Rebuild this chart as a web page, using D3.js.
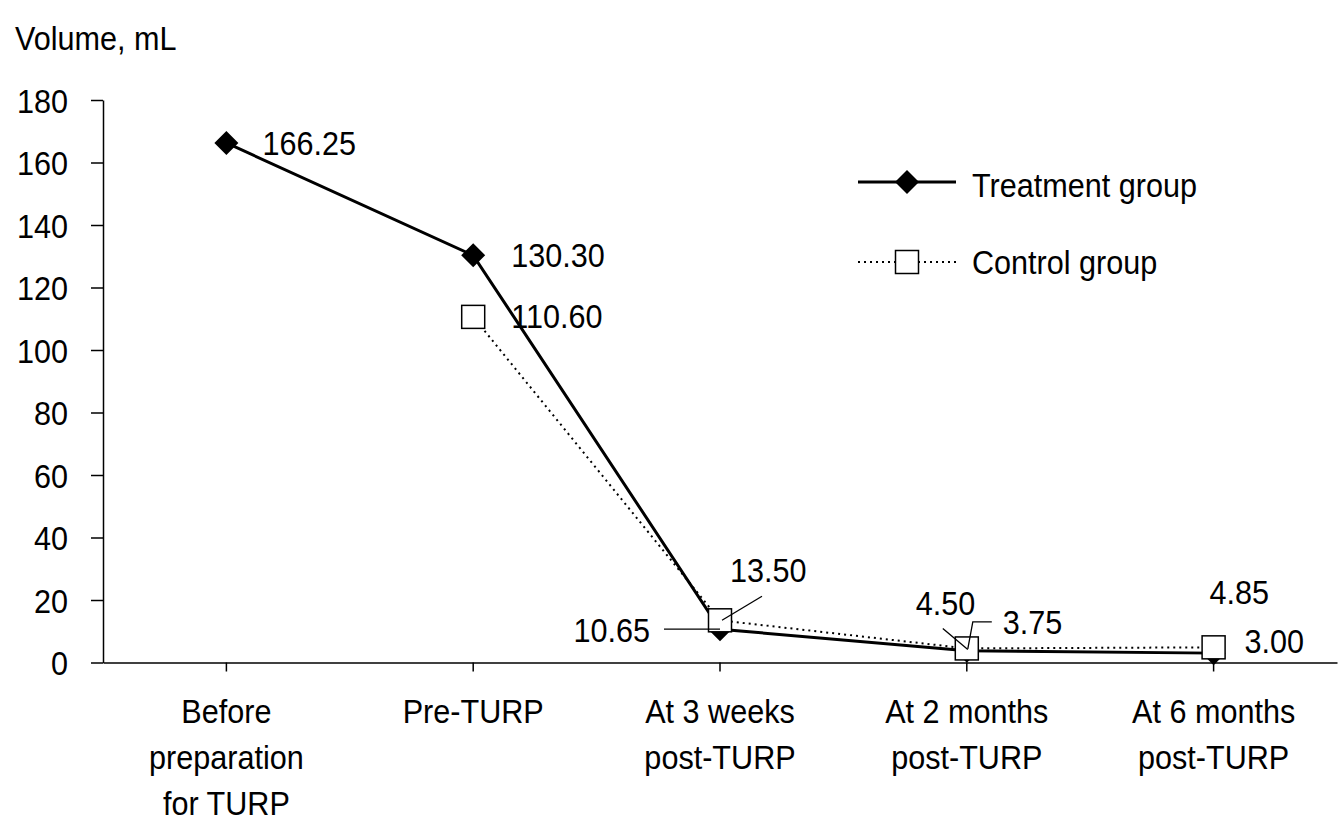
<!DOCTYPE html>
<html><head><meta charset="utf-8">
<script src="https://cdn.jsdelivr.net/npm/d3@7"></script>
<style>
html,body{margin:0;padding:0;background:#fff;}
text{font-family:"Liberation Sans",Arial,sans-serif;font-size:34px;fill:#000;}
</style></head>
<body><svg id="chart" width="1344" height="834"></svg>
<script>
const categories = [["Before","preparation","for TURP"],["Pre-TURP"],["At 3 weeks","post-TURP"],["At 2 months","post-TURP"],["At 6 months","post-TURP"]];
const treatment = [166.25, 130.30, 10.65, 3.75, 3.00];
const control = [null, 110.60, 13.50, 4.50, 4.85];
const treatmentLabels = ["166.25","130.30","10.65","3.75","3.00"];
const controlLabels = [null,"110.60","13.50","4.50","4.85"];
const yTicks = [0,20,40,60,80,100,120,140,160,180];
const seriesNames = ["Treatment group","Control group"];

// label layout (offsets from the point, pixels)
const tLabelLayout = [{dx:36,dy:12,a:"start"},{dx:38,dy:12,a:"start"},{dx:-70,dy:13,a:"end",leader:[[-56,0],[0,0]]},{dx:36,dy:-17,a:"start",leader:[[1,-2],[6,-29],[25,-29]]},{dx:31,dy:0,a:"start"}];
const cLabelLayout = [null,{dx:38,dy:11,a:"start"},{dx:10,dy:-38,a:"start",leader:[[2,0],[42,-24]]},{dx:-51,dy:-33,a:"start",leader:[[-24,-20],[1,1]]},{dx:-4,dy:-43,a:"start"}];

const SX = 0.9;
const svg = d3.select("#chart");
const idx = d3.range(categories.length);
const x = d3.scaleBand().domain(idx).range([103,1337]).padding(0);
const cx = i => x(i) + x.bandwidth()/2;
const y = d3.scaleLinear().domain([0,180]).range([662.5,100]);

function txt(g, px, py, s, anchor){
  return g.append("text").attr("transform",`translate(${px},${py}) scale(${SX},1)`).attr("text-anchor",anchor||"start").text(s);
}

// y axis
const ya = svg.append("g").attr("transform","translate(103,0)")
  .call(d3.axisLeft(y).tickValues(yTicks).tickSize(12).tickSizeOuter(0).tickFormat(d3.format("d")));
ya.selectAll("path,line").attr("stroke","#000").attr("stroke-width",1.5);
ya.selectAll("text").attr("x",null).attr("dy",null).attr("transform",`translate(-35,12) scale(${SX},1)`)
  .attr("text-anchor","end").style("font-size","34px").style("font-family",'"Liberation Sans",Arial,sans-serif');

// x axis
const xa = svg.append("g").attr("transform",`translate(0,${y(0)})`)
  .call(d3.axisBottom(x).tickSize(9).tickSizeOuter(0).tickFormat(""));
xa.selectAll("path,line").attr("stroke","#000").attr("stroke-width",1.5);
xa.selectAll("text").remove();

// category labels
idx.forEach(i=>{
  categories[i].forEach((line,k)=>{
    txt(svg, cx(i), 723 + k*46, line, "middle");
  });
});

// axis title
txt(svg, 15, 50, "Volume, mL", "start");

// lines
const tData = idx.map(i=>({i,v:treatment[i]}));
const cData = idx.map(i=>({i,v:control[i]})).filter(d=>d.v!=null);
const line = d3.line().x(d=>cx(d.i)).y(d=>y(d.v));
svg.append("path").datum(tData).attr("d",line).attr("fill","none").attr("stroke","#000").attr("stroke-width",3);
svg.append("path").datum(cData).attr("d",line).attr("fill","none").attr("stroke","#000").attr("stroke-width",2).attr("stroke-dasharray","2,4");

// markers
const diamond = (px,py,r)=>`M${px},${py-r}L${px+r},${py}L${px},${py+r}L${px-r},${py}Z`;
svg.selectAll(".tm").data(tData).join("path").attr("d",d=>diamond(cx(d.i),y(d.v),12)).attr("fill","#000");
svg.selectAll(".cm").data(cData).join("rect")
  .attr("x",d=>cx(d.i)-11.5).attr("y",d=>y(d.v)-11.5).attr("width",23).attr("height",23)
  .attr("fill","#fff").attr("stroke","#000").attr("stroke-width",1.5);

// data labels
function labels(vals, labs, layout){
  vals.forEach((v,i)=>{
    if(v==null) return;
    const L = layout[i], px = cx(i), py = y(v);
    if(L.leader){
      svg.append("polyline").attr("points",L.leader.map(p=>`${px+p[0]},${py+p[1]}`).join(" "))
        .attr("fill","none").attr("stroke","#000").attr("stroke-width",1.3);
    }
    txt(svg, px+L.dx, py+L.dy, labs[i], L.a);
  });
}
labels(treatment, treatmentLabels, tLabelLayout);
labels(control, controlLabels, cLabelLayout);

// legend
const lg = svg.append("g");
lg.append("line").attr("x1",858).attr("x2",956).attr("y1",182).attr("y2",182).attr("stroke","#000").attr("stroke-width",3);
lg.append("path").attr("d",diamond(907,182,12)).attr("fill","#000");
txt(lg, 972, 197, seriesNames[0], "start");
lg.append("line").attr("x1",858).attr("x2",956).attr("y1",262).attr("y2",262).attr("stroke","#000").attr("stroke-width",2).attr("stroke-dasharray","2,4");
lg.append("rect").attr("x",895.5).attr("y",250.5).attr("width",23).attr("height",23).attr("fill","#fff").attr("stroke","#000").attr("stroke-width",1.5);
txt(lg, 972, 274, seriesNames[1], "start");
</script></body></html>
